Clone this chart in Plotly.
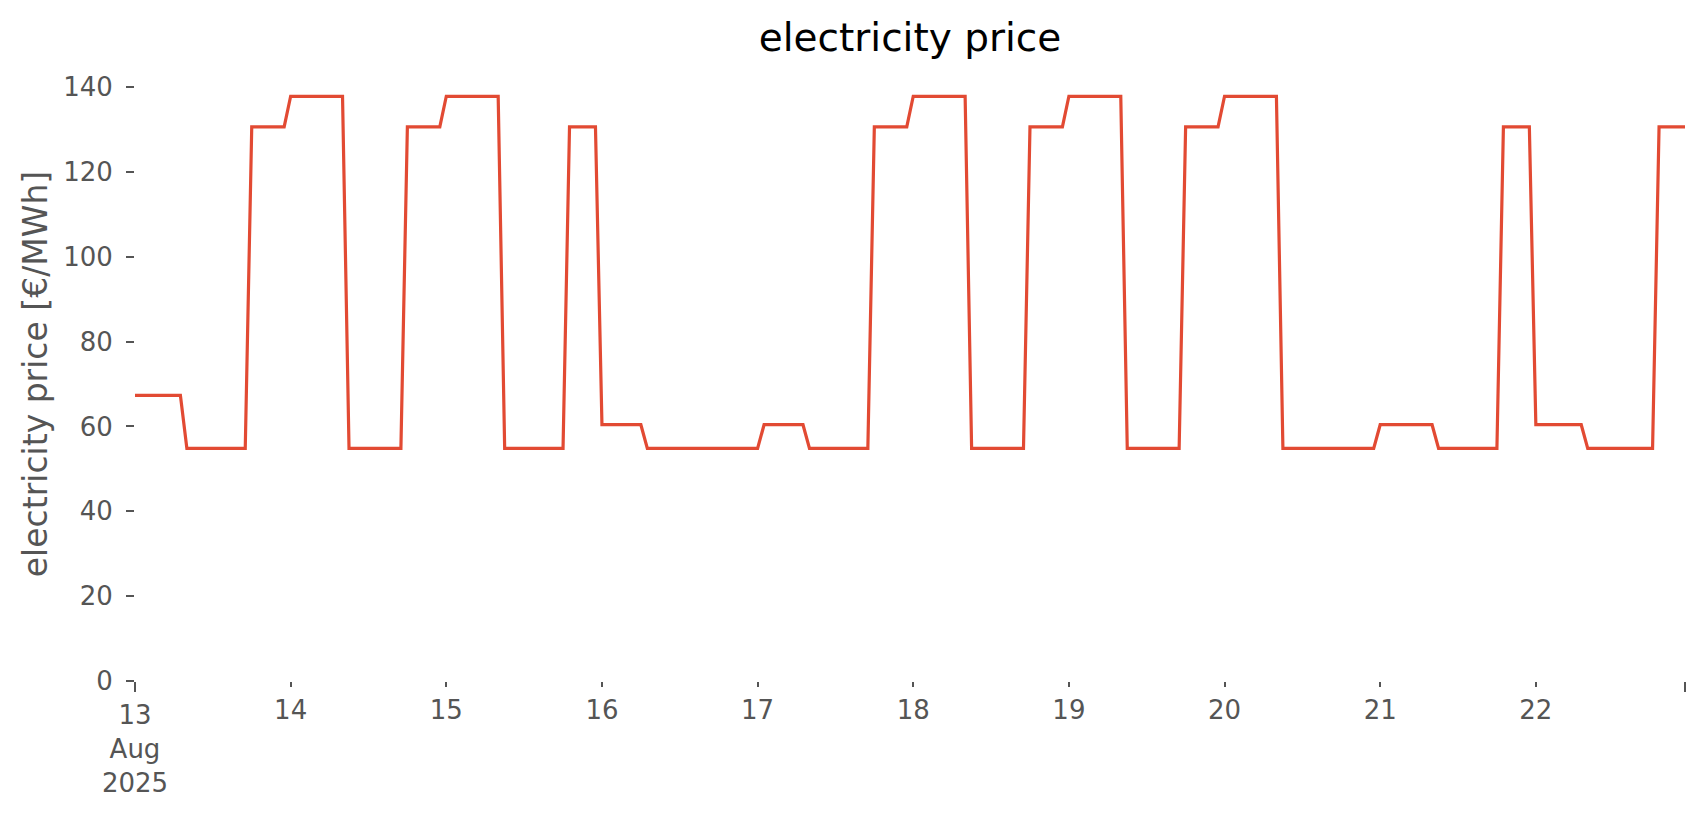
import plotly.graph_objects as go
import pandas as pd

# ---- data (hourly electricity price, run-length encoded) ----
start_time = "2025-08-13 00:00"
run_values = [67.3, 54.8, 130.6, 137.8, 54.8, 130.6, 137.8, 54.8, 130.6, 60.4,
              54.8, 60.4, 54.8, 130.6, 137.8, 54.8, 130.6, 137.8, 54.8, 130.6,
              137.8, 54.8, 60.4, 54.8, 130.6, 60.4, 54.8, 130.6]
run_hours = [8, 10, 6, 9, 9, 6, 9, 10, 5, 7,
             18, 7, 10, 6, 9, 9, 6, 9, 9, 6,
             9, 15, 9, 10, 5, 8, 11, 5]

day_dates = ["2025-08-14", "2025-08-15", "2025-08-16", "2025-08-17",
             "2025-08-18", "2025-08-19", "2025-08-20", "2025-08-21", "2025-08-22"]
day_labels = ["14", "15", "16", "17", "18", "19", "20", "21", "22"]
start_label = "13<br>Aug<br>2025"
y_ticks = [0, 20, 40, 60, 80, 100, 120, 140]

prices = []
for v, n in zip(run_values, run_hours):
    prices += [v] * n
times = pd.date_range(start_time, periods=len(prices), freq="h")

FONT = "DejaVu Sans"
GREY = "#555555"

fig = go.Figure()
fig.add_trace(go.Scatter(
    x=times, y=prices, mode="lines",
    line=dict(color="#E24A33", width=3.2),
    showlegend=False, hoverinfo="x+y",
))
# invisible copy so the overlaid major-tick axis gets drawn
fig.add_trace(go.Scatter(
    x=times, y=prices, mode="lines", xaxis="x2", yaxis="y",
    line=dict(color="rgba(0,0,0,0)", width=0),
    showlegend=False, hoverinfo="skip",
))

x_range = [times[0], times[-1]]
tick_font = dict(family=FONT, size=26, color=GREY)

fig.update_layout(
    width=1706, height=815,
    paper_bgcolor="white", plot_bgcolor="white",
    margin=dict(l=135, r=21, t=67, b=134),
    font=dict(family=FONT, color=GREY),
    title=dict(text="electricity price", x=0.5, xref="paper", xanchor="center",
               y=1 - 37.5 / 815, yref="container", yanchor="middle",
               font=dict(family=FONT, size=39, color="black")),
    xaxis=dict(
        type="date", range=x_range,
        tickmode="array", tickvals=day_dates, ticktext=day_labels,
        ticks="outside", ticklen=5, tickwidth=2, tickcolor=GREY,
        tickfont=tick_font,
        showgrid=False, zeroline=False, showline=False,
        ticklabelstandoff=1,
    ),
    xaxis2=dict(
        type="date", range=x_range, overlaying="x", anchor="y", side="bottom",
        tickmode="array", tickvals=[times[0], times[-1]], ticktext=[start_label, ""],
        ticks="outside", ticklen=10, tickwidth=2, tickcolor=GREY,
        tickfont=tick_font, ticklabelstandoff=1,
        showgrid=False, zeroline=False, showline=False,
    ),
    yaxis=dict(
        range=[0, 144.7],
        tickmode="array", tickvals=y_ticks,
        ticks="outside", ticklen=8, tickwidth=2, tickcolor=GREY,
        tickfont=tick_font,
        showgrid=False, zeroline=False, showline=False,
        ticklabelstandoff=8,
        title=dict(text="electricity price [€/MWh]", standoff=5,
                   font=dict(family=FONT, size=33, color=GREY)),
    ),
)

fig.write_html("out.html", config={"displayModeBar": False},
               post_script="document.body.style.margin='0';")
